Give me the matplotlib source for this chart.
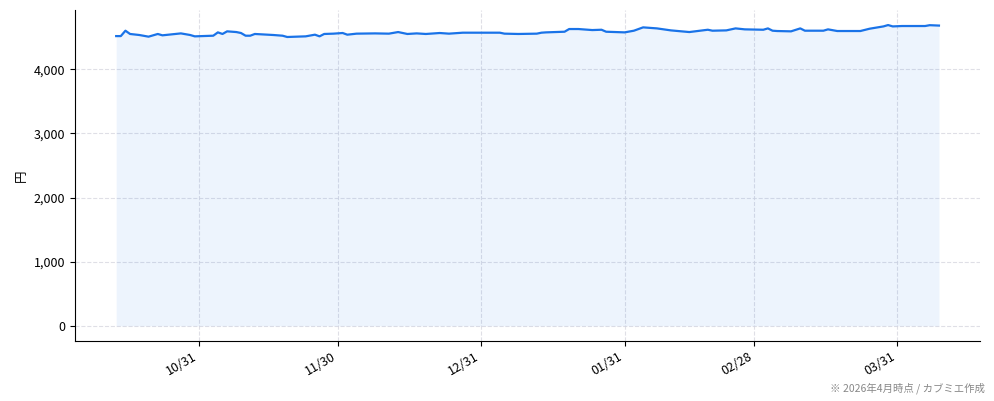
"""Price history line chart with shaded area (円)"""
import matplotlib
matplotlib.use("Agg")
import matplotlib.pyplot as plt
import matplotlib.dates as mdates
import matplotlib.ticker as mticker
import pandas as pd

plt.rcParams['font.family'] = ['Noto Sans CJK JP', 'DejaVu Sans']

dates = [
    "2025-10-13", "2025-10-14", "2025-10-15", "2025-10-16", "2025-10-18",
    "2025-10-20", "2025-10-22", "2025-10-23", "2025-10-27", "2025-10-29",
    "2025-10-30", "2025-11-03", "2025-11-04", "2025-11-05", "2025-11-06",
    "2025-11-08", "2025-11-09", "2025-11-10", "2025-11-11", "2025-11-12",
    "2025-11-16", "2025-11-18", "2025-11-19", "2025-11-23", "2025-11-25",
    "2025-11-26", "2025-11-27", "2025-11-29", "2025-12-01", "2025-12-02",
    "2025-12-04", "2025-12-08", "2025-12-11", "2025-12-13", "2025-12-15",
    "2025-12-17", "2025-12-19", "2025-12-22", "2025-12-24", "2025-12-27",
    "2025-12-30", "2026-01-04", "2026-01-05", "2026-01-08", "2026-01-12",
    "2026-01-13", "2026-01-14", "2026-01-18", "2026-01-19", "2026-01-21",
    "2026-01-24", "2026-01-26", "2026-01-27", "2026-01-31", "2026-02-02",
    "2026-02-04", "2026-02-07", "2026-02-10", "2026-02-14", "2026-02-18",
    "2026-02-19", "2026-02-22", "2026-02-24", "2026-02-26", "2026-03-02",
    "2026-03-03", "2026-03-04", "2026-03-05", "2026-03-08", "2026-03-10",
    "2026-03-11", "2026-03-15", "2026-03-16", "2026-03-18", "2026-03-23",
    "2026-03-25", "2026-03-28", "2026-03-29", "2026-03-30", "2026-04-01",
    "2026-04-06", "2026-04-07", "2026-04-09",
]
prices = [
    4518, 4518, 4602, 4551, 4535,
    4509, 4551, 4530, 4560, 4535,
    4514, 4524, 4576, 4551, 4592,
    4581, 4566, 4524, 4524, 4551,
    4535, 4524, 4504, 4514, 4540,
    4514, 4551, 4556, 4566, 4540,
    4556, 4560, 4556, 4581, 4551,
    4560, 4551, 4566, 4556, 4571,
    4571, 4571, 4556, 4551, 4556,
    4571, 4576, 4586, 4628, 4628,
    4612, 4617, 4586, 4576, 4602,
    4654, 4638, 4607, 4581, 4617,
    4602, 4607, 4638, 4623, 4617,
    4638, 4602, 4597, 4592, 4638,
    4602, 4602, 4623, 4597, 4597,
    4633, 4669, 4690, 4669, 4675,
    4675, 4688, 4682,
]

tick_dates = ["2025-10-31", "2025-11-30", "2025-12-31",
              "2026-01-31", "2026-02-28", "2026-03-31"]

LINE_COLOR = "#1a73e8"


def plot_price():
    x = pd.to_datetime(dates)
    fig = plt.figure(figsize=(9.94, 4.01), dpi=100)
    ax = fig.add_axes([0.0755, 0.150, 0.9105, 0.825])

    ax.fill_between(x, prices, 0, color=LINE_COLOR, alpha=0.08, lw=0)
    ax.plot(x, prices, color=LINE_COLOR, lw=1.6)

    ax.set_xticks(pd.to_datetime(tick_dates))
    ax.xaxis.set_major_formatter(mdates.DateFormatter("%m/%d"))
    ax.yaxis.set_major_locator(mticker.MultipleLocator(1000))
    ax.yaxis.set_major_formatter(mticker.FuncFormatter(lambda v, p: f"{int(v):,}"))
    for lab in ax.get_xticklabels():
        lab.set_rotation(30)
        lab.set_ha("right")
    ax.tick_params(labelsize=9)

    ax.grid(True, ls="--", color="#d8d8e0", lw=0.8, alpha=0.8)
    ax.set_axisbelow(True)
    ax.spines["top"].set_visible(False)
    ax.spines["right"].set_visible(False)
    ax.set_ylabel("円", fontsize=9)

    fig.text(0.991, 0.018, "※ 2026年4月時点 / カブミエ作成",
             ha="right", va="bottom", fontsize=7.5, color="#888888")

    fig.savefig("out.png", dpi=100)


if __name__ == "__main__":
    plot_price()
